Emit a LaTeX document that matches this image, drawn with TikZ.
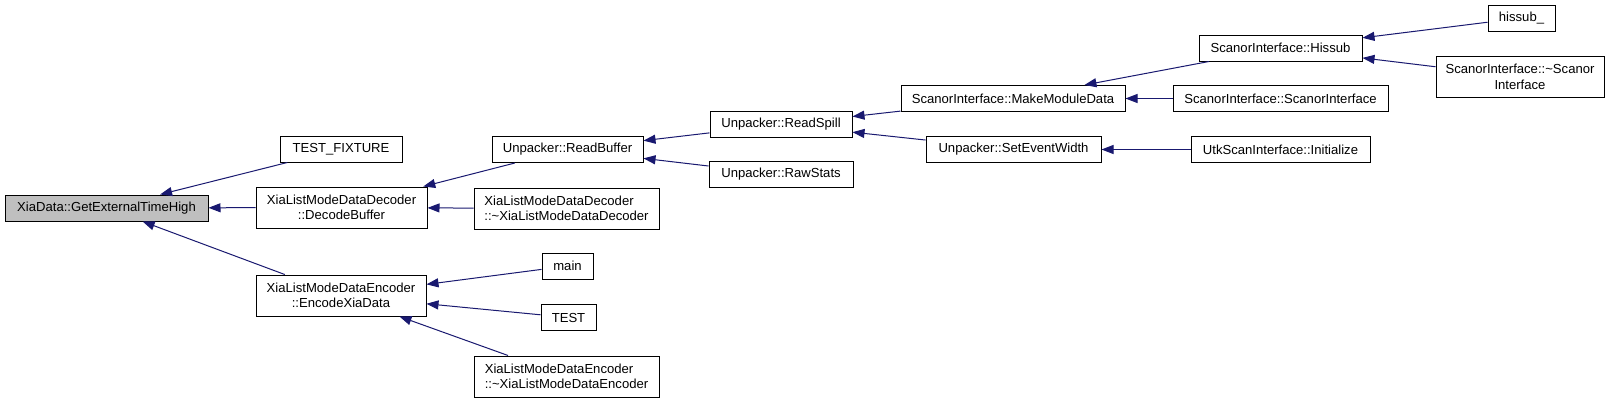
\documentclass[tikz,border=0pt]{standalone}
\usepackage{fontspec}
\setmainfont{Liberation Sans}
\usetikzlibrary{arrows.meta}
\definecolor{edgeblue}{HTML}{191970}
\definecolor{rootgray}{HTML}{BFBFBF}
\tikzset{
  fn/.style={draw=black, line width=1pt, fill=white, inner sep=0pt, text=black,
    font=\fontsize{13.1}{15.5}\selectfont, align=center},
  one/.style={minimum height=26pt},
  two/.style={minimum height=41pt},
  call/.style={draw=edgeblue, line width=1pt, -{Triangle[length=12pt,width=9pt]}, color=edgeblue},
}
\begin{document}
\begin{tikzpicture}[x=1pt,y=-1pt]
\useasboundingbox (0,0) rectangle (1612,402);
\fill[white] (0,0) rectangle (1612,402);

\node[fn, one, fill=rootgray, minimum width=203pt] (gen) at (106.5,208) {XiaData::GetExternalTimeHigh};
\node[fn, one, minimum width=122pt] (fix) at (341,149) {TEST\_FIXTURE};
\node[fn, two, minimum width=171pt] (dec) at (341.5,207.5) {XiaListModeDataDecoder\\::DecodeBuffer};
\node[fn, two, minimum width=170pt] (enc) at (341,295.5) {XiaListModeDataEncoder\\::EncodeXiaData};

\node[fn, one, minimum width=151pt] (rb) at (567.5,149.5) {Unpacker::ReadBuffer};
\node[fn, two, minimum width=185pt, align=left] (dd) at (566.5,208.5) {XiaListModeDataDecoder\\::\textasciitilde XiaListModeDataDecoder};
\node[fn, one, minimum width=51pt] (main) at (567.5,266) {main};
\node[fn, one, minimum width=55pt] (test) at (568.5,317.5) {TEST};
\node[fn, two, minimum width=185pt, align=left] (ed) at (566.5,376.5) {XiaListModeDataEncoder\\::\textasciitilde XiaListModeDataEncoder};

\node[fn, one, minimum width=142pt] (rs) at (781,124.5) {Unpacker::ReadSpill};
\node[fn, one, minimum width=144pt] (raw) at (781,174.5) {Unpacker::RawStats};

\node[fn, one, minimum width=224pt] (mmd) at (1013,98.5) {ScanorInterface::MakeModuleData};
\node[fn, one, minimum width=175pt] (sew) at (1013.5,149.5) {Unpacker::SetEventWidth};

\node[fn, one, minimum width=163pt] (his) at (1280.5,48) {ScanorInterface::Hissub};
\node[fn, one, minimum width=215pt] (ctor) at (1280.5,98.5) {ScanorInterface::ScanorInterface};
\node[fn, one, minimum width=179pt] (init) at (1280.5,149.5) {UtkScanInterface::Initialize};

\node[fn, one, minimum width=67pt] (hs) at (1521.5,18) {hissub\_};
\node[fn, two, minimum width=168pt] (dtor) at (1520,77) {ScanorInterface::\textasciitilde Scanor\\Interface};

\draw[call] (fix) -- (gen);
\draw[call] (dec) -- (gen);
\draw[call] (enc) -- (gen);
\draw[call] (rb) -- (dec);
\draw[call] (dd) -- (dec);
\draw[call] (main) -- (enc);
\draw[call] (test) -- (enc);
\draw[call] (ed) -- (enc);
\draw[call] (rs) -- (rb);
\draw[call] (raw) -- (rb);
\draw[call] (mmd) -- (rs);
\draw[call] (sew) -- (rs);
\draw[call] (his) -- (mmd);
\draw[call] (ctor) -- (mmd);
\draw[call] (init) -- (sew);
\draw[call] (hs) -- (his);
\draw[call] (dtor) -- (his);
\end{tikzpicture}
\end{document}
